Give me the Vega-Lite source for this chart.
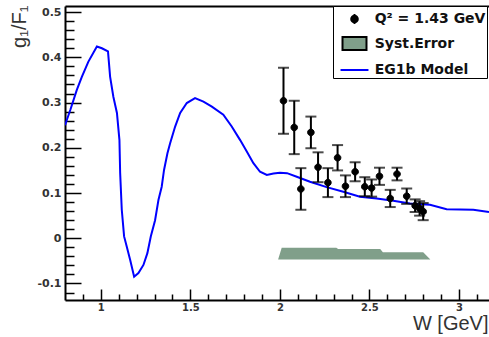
{
  "$schema": "https://vega.github.io/schema/vega-lite/v6.json",
  "width": 424,
  "height": 294,
  "autosize": {"type": "none"},
  "padding": {"left": 65, "top": 6, "right": 0, "bottom": 37},
  "config": {
    "view": {"stroke": null},
    "font": "Liberation Sans",
    "axis": {
      "grid": false,
      "domainColor": "black",
      "domainWidth": 2,
      "tickColor": "black",
      "tickWidth": 1.5,
      "labelFont": "DejaVu Sans",
      "labelFontWeight": "bold",
      "labelColor": "#333333",
      "titleFont": "Liberation Sans",
      "titleFontWeight": "normal",
      "titleColor": "#333333"
    }
  },
  "datasets": {
    "model": [
      {"W": 0.8, "g": 0.25}, {"W": 0.83, "g": 0.284}, {"W": 0.866, "g": 0.328},
      {"W": 0.894, "g": 0.357}, {"W": 0.93, "g": 0.39}, {"W": 0.978, "g": 0.424},
      {"W": 1.006, "g": 0.42}, {"W": 1.04, "g": 0.413}, {"W": 1.052, "g": 0.357},
      {"W": 1.07, "g": 0.313}, {"W": 1.09, "g": 0.277}, {"W": 1.104, "g": 0.217},
      {"W": 1.108, "g": 0.144}, {"W": 1.117, "g": 0.063}, {"W": 1.13, "g": 0.004},
      {"W": 1.145, "g": -0.019}, {"W": 1.164, "g": -0.048}, {"W": 1.186, "g": -0.085},
      {"W": 1.21, "g": -0.077}, {"W": 1.238, "g": -0.059}, {"W": 1.26, "g": -0.033},
      {"W": 1.279, "g": 0.004}, {"W": 1.303, "g": 0.04}, {"W": 1.322, "g": 0.085},
      {"W": 1.34, "g": 0.114}, {"W": 1.353, "g": 0.151}, {"W": 1.372, "g": 0.188},
      {"W": 1.387, "g": 0.21}, {"W": 1.415, "g": 0.247}, {"W": 1.443, "g": 0.277},
      {"W": 1.48, "g": 0.299}, {"W": 1.526, "g": 0.31}, {"W": 1.573, "g": 0.302},
      {"W": 1.62, "g": 0.291}, {"W": 1.684, "g": 0.273}, {"W": 1.731, "g": 0.247},
      {"W": 1.778, "g": 0.217}, {"W": 1.815, "g": 0.192}, {"W": 1.852, "g": 0.166},
      {"W": 1.889, "g": 0.147}, {"W": 1.927, "g": 0.14}, {"W": 1.964, "g": 0.143},
      {"W": 2.0, "g": 0.145}, {"W": 2.04, "g": 0.144}, {"W": 2.094, "g": 0.136},
      {"W": 2.168, "g": 0.125}, {"W": 2.261, "g": 0.113}, {"W": 2.354, "g": 0.103},
      {"W": 2.447, "g": 0.092}, {"W": 2.54, "g": 0.088}, {"W": 2.633, "g": 0.083},
      {"W": 2.726, "g": 0.077}, {"W": 2.838, "g": 0.074}, {"W": 2.931, "g": 0.064},
      {"W": 3.08, "g": 0.063}, {"W": 3.1675, "g": 0.058}
    ],
    "syst": [
      {"W": 1.99, "g": -0.047, "base": -0.047},
      {"W": 2.01, "g": -0.021, "base": -0.047},
      {"W": 2.315, "g": -0.021, "base": -0.047},
      {"W": 2.325, "g": -0.024, "base": -0.047},
      {"W": 2.56, "g": -0.024, "base": -0.047},
      {"W": 2.575, "g": -0.031, "base": -0.047},
      {"W": 2.8, "g": -0.031, "base": -0.047},
      {"W": 2.84, "g": -0.047, "base": -0.047}
    ],
    "data": [
      {"W": 2.02, "g": 0.304, "err": 0.073, "series": "Q² = 1.43 GeV"},
      {"W": 2.08, "g": 0.245, "err": 0.059, "series": "Q² = 1.43 GeV"},
      {"W": 2.117, "g": 0.109, "err": 0.046, "series": "Q² = 1.43 GeV"},
      {"W": 2.173, "g": 0.234, "err": 0.035, "series": "Q² = 1.43 GeV"},
      {"W": 2.213, "g": 0.157, "err": 0.033, "series": "Q² = 1.43 GeV"},
      {"W": 2.268, "g": 0.123, "err": 0.032, "series": "Q² = 1.43 GeV"},
      {"W": 2.322, "g": 0.178, "err": 0.028, "series": "Q² = 1.43 GeV"},
      {"W": 2.366, "g": 0.115, "err": 0.024, "series": "Q² = 1.43 GeV"},
      {"W": 2.42, "g": 0.147, "err": 0.021, "series": "Q² = 1.43 GeV"},
      {"W": 2.474, "g": 0.114, "err": 0.021, "series": "Q² = 1.43 GeV"},
      {"W": 2.512, "g": 0.111, "err": 0.019, "series": "Q² = 1.43 GeV"},
      {"W": 2.556, "g": 0.137, "err": 0.019, "series": "Q² = 1.43 GeV"},
      {"W": 2.616, "g": 0.088, "err": 0.019, "series": "Q² = 1.43 GeV"},
      {"W": 2.654, "g": 0.142, "err": 0.014, "series": "Q² = 1.43 GeV"},
      {"W": 2.708, "g": 0.093, "err": 0.017, "series": "Q² = 1.43 GeV"},
      {"W": 2.755, "g": 0.072, "err": 0.014, "series": "Q² = 1.43 GeV"},
      {"W": 2.78, "g": 0.066, "err": 0.016, "series": "Q² = 1.43 GeV"},
      {"W": 2.8, "g": 0.059, "err": 0.019, "series": "Q² = 1.43 GeV"}
    ]
  },
  "layer": [
    {
      "data": {"name": "syst"},
      "mark": {"type": "area", "color": "#809f8a", "clip": true},
      "encoding": {
        "x": {
          "field": "W", "type": "quantitative",
          "scale": {"domain": [0.8, 3.1675], "nice": false, "zero": false},
          "axis": {"orient": "top", "ticks": false, "labels": false, "title": null, "domainWidth": 2}
        },
        "y": {
          "field": "g", "type": "quantitative",
          "scale": {"domain": [-0.1365, 0.5135], "nice": false, "zero": false},
          "axis": null
        },
        "y2": {"field": "base"}
      }
    },
    {
      "data": {"name": "model"},
      "mark": {"type": "line", "color": "#0000ff", "strokeWidth": 2, "clip": true},
      "encoding": {
        "x": {
          "field": "W", "type": "quantitative",
          "scale": {"domain": [0.8, 3.1675], "nice": false, "zero": false},
          "axis": {
            "orient": "bottom",
            "title": "W [GeV]",
            "titleFontSize": 20,
            "titleAnchor": "end",
            "titleAlign": "right",
            "titleBaseline": "alphabetic",
            "titleX": 423,
            "titleY": 29,
            "values": [0.9, 1, 1.1, 1.2, 1.3, 1.4, 1.5, 1.6, 1.7, 1.8, 1.9, 2, 2.1, 2.2, 2.3, 2.4, 2.5, 2.6, 2.7, 2.8, 2.9, 3, 3.1],
            "tickSize": {"condition": {"test": "abs(datum.value * 2 - round(datum.value * 2)) < 1e-6", "value": -11}, "value": -6},
            "labelExpr": "abs(datum.value * 2 - round(datum.value * 2)) < 1e-6 ? format(datum.value, '~g') : ''",
            "labelFontSize": 10,
            "labelPadding": 13,
            "labelFlush": false,
            "labelOverlap": false
          }
        },
        "y": {
          "field": "g", "type": "quantitative",
          "scale": {"domain": [-0.1365, 0.5135], "nice": false, "zero": false},
          "axis": {
            "orient": "left",
            "title": "g₁/F₁",
            "titleFontSize": 20,
            "titleAngle": -90,
            "titleAnchor": "end",
            "titleAlign": "right",
            "titleBaseline": "alphabetic",
            "titleX": -40,
            "titleY": -1,
            "values": [-0.12, -0.1, -0.08, -0.06, -0.04, -0.02, 0, 0.02, 0.04, 0.06, 0.08, 0.1, 0.12, 0.14, 0.16, 0.18, 0.2, 0.22, 0.24, 0.26, 0.28, 0.3, 0.32, 0.34, 0.36, 0.38, 0.4, 0.42, 0.44, 0.46, 0.48, 0.5],
            "tickSize": {"condition": {"test": "abs(datum.value * 10 - round(datum.value * 10)) < 1e-6", "value": -16}, "value": -9},
            "labelExpr": "abs(datum.value * 10 - round(datum.value * 10)) < 1e-6 ? (datum.value < 0 ? '-' + format(-datum.value, '~g') : format(datum.value, '~g')) : ''",
            "labelFontSize": 11,
            "labelPadding": 20,
            "labelFlush": false,
            "labelOverlap": false
          }
        }
      }
    },
    {
      "data": {"name": "data"},
      "mark": {"type": "errorbar", "ticks": {"size": 11}, "thickness": 2, "color": "black"},
      "encoding": {
        "x": {
          "field": "W", "type": "quantitative",
          "scale": {"domain": [0.8, 3.1675], "nice": false, "zero": false},
          "axis": null
        },
        "y": {
          "field": "g", "type": "quantitative",
          "scale": {"domain": [-0.1365, 0.5135], "nice": false, "zero": false},
          "axis": null
        },
        "yError": {"field": "err"}
      }
    },
    {
      "data": {"name": "data"},
      "mark": {
        "type": "point",
        "filled": true,
        "opacity": 1,
        "size": 484,
        "strokeWidth": 1
      },
      "encoding": {
        "x": {
          "field": "W", "type": "quantitative",
          "scale": {"domain": [0.8, 3.1675], "nice": false, "zero": false},
          "axis": null
        },
        "y": {
          "field": "g", "type": "quantitative",
          "scale": {"domain": [-0.1365, 0.5135], "nice": false, "zero": false},
          "axis": null
        },
        "color": {
          "field": "series",
          "type": "nominal",
          "scale": {
            "domain": ["Q² = 1.43 GeV", "Syst.Error", "EG1b Model"],
            "range": ["black", "#809f8a", "#0000ff"]
          },
          "legend": {
            "title": null,
            "orient": "none",
            "legendX": 268,
            "legendY": 0,
            "padding": 1,
            "fillColor": "white",
            "strokeColor": "black",
            "symbolSize": 484,
            "symbolStrokeWidth": 2,
            "symbolOpacity": 1,
            "symbolOffset": 8.5,
            "labelOffset": 8.2,
            "rowPadding": 3.5,
            "labelFont": "DejaVu Sans",
            "labelFontWeight": "bold",
            "labelFontSize": 14,
            "labelColor": "#111111",
            "labelLimit": 400,
            "encode": {"legend": {"strokeWidth": {"value": 2}}}
          }
        },
        "stroke": {
          "field": "series",
          "type": "nominal",
          "scale": {
            "domain": ["Q² = 1.43 GeV", "Syst.Error", "EG1b Model"],
            "range": ["black", "black", "#0000ff"]
          },
          "legend": {"title": null}
        },
        "shape": {
          "field": "series",
          "type": "nominal",
          "scale": {
            "domain": ["Q² = 1.43 GeV", "Syst.Error", "EG1b Model"],
            "range": [
              "M-0.3,0A0.3,0.3 0 1,0 0.3,0A0.3,0.3 0 1,0 -0.3,0ZM0,-0.45V0.45",
              "M-1.09,-0.59H1.09V0.59H-1.09Z",
              "M-1.27,0H1.27"
            ]
          },
          "legend": {"title": null}
        }
      }
    }
  ],
  "resolve": {"axis": {"x": "independent", "y": "independent"}}
}
